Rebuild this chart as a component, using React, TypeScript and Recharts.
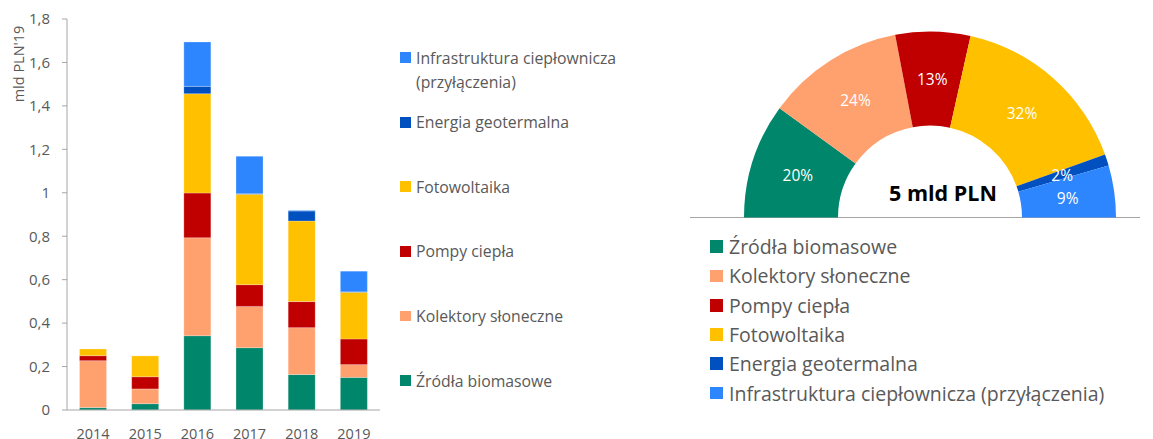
import React from "react";
import { Bar, BarChart, Cell, Label, Pie, PieChart, XAxis, YAxis } from "recharts";

const years = ["2014", "2015", "2016", "2017", "2018", "2019"];
const biomasa = [0.011, 0.029, 0.342, 0.287, 0.163, 0.15];
const kolektory = [0.216, 0.068, 0.451, 0.19, 0.216, 0.059];
const pompy = [0.023, 0.056, 0.206, 0.1, 0.12, 0.118];
const fotowoltaika = [0.031, 0.096, 0.457, 0.416, 0.371, 0.215];
const geotermia = [0, 0, 0.034, 0.003, 0.046, 0.002];
const infrastruktura = [0, 0, 0.204, 0.172, 0.003, 0.095];
const yTicks = [0, 0.2, 0.4, 0.6, 0.8, 1, 1.2, 1.4, 1.6, 1.8];

const seriesNames = [
  "Źródła biomasowe",
  "Kolektory słoneczne",
  "Pompy ciepła",
  "Fotowoltaika",
  "Energia geotermalna",
  "Infrastruktura ciepłownicza (przyłączenia)",
];
const seriesKeys = ["biomasa", "kolektory", "pompy", "foto", "geo", "infra"];
const colors = ["#00866a", "#ffa06f", "#c00000", "#ffc000", "#0050c0", "#2e86ff"];

const shares = [20, 24, 13, 32, 2, 9];
const total = "5 mld PLN";

const barData = years.map((year, i) => ({
  year,
  biomasa: biomasa[i],
  kolektory: kolektory[i],
  pompy: pompy[i],
  foto: fotowoltaika[i],
  geo: geotermia[i],
  infra: infrastruktura[i],
}));
const pieData = seriesNames.map((name, i) => ({ name, value: shares[i] }));

const font = "'Open Sans', 'Noto Sans', sans-serif";
const grey = "#595959";
const axisGrey = "#a6a6a6";
const RAD = Math.PI / 180;

function sliceLabel(props: any) {
  const { cx, cy, midAngle, innerRadius, outerRadius, value } = props;
  const r = (innerRadius + outerRadius) / 2;
  const a = midAngle * RAD;
  return (
    <text
      x={cx + r * Math.cos(a)}
      y={cy - r * Math.sin(a)}
      fill="#ffffff"
      fontSize={15.5}
      fontFamily={font}
      textAnchor="middle"
      dominantBaseline="central"
    >
      {value}%
    </text>
  );
}

export default function App() {
  return (
    <div style={{ position: "absolute", left: 0, top: 0, width: 1153, height: 439, background: "#fff", fontFamily: font, overflow: "hidden" }}>
      <div style={{ position: "absolute", left: 0, top: 0 }}>
        <BarChart width={390} height={439} data={barData} margin={{ top: 19, right: 10, left: 0, bottom: 0 }} barCategoryGap="24%">
          <XAxis
            dataKey="year"
            height={29}
            tickLine={false}
            tickSize={0}
            tickMargin={19}
            axisLine={{ stroke: axisGrey }}
            tick={{ fill: grey, fontSize: 14.5, fontFamily: font }}
          />
          <YAxis
            width={67}
            domain={[0, 1.8]}
            ticks={yTicks}
            tickSize={5}
            tickMargin={12}
            axisLine={{ stroke: axisGrey }}
            tickLine={{ stroke: axisGrey }}
            tick={{ fill: grey, fontSize: 15, fontFamily: font }}
            tickFormatter={(v: number) => String(v).replace(".", ",")}
            label={{
              content: (p: any) => {
                const x = (p.viewBox?.x ?? 0) + 18;
                const y = (p.viewBox?.y ?? 19) + 45;
                return (
                  <text x={x} y={y} transform={`rotate(-90 ${x} ${y})`} textAnchor="middle" dominantBaseline="central" fill={grey} fontSize={14.5} fontFamily={font}>
                    mld PLN'19
                  </text>
                );
              },
            }}
          />
          {seriesKeys.map((k, i) => (
            <Bar key={k} dataKey={k} name={seriesNames[i]} stackId="a" fill={colors[i]} stroke="#ffffff" strokeOpacity={0.4} strokeWidth={0.6} isAnimationActive={false} />
          ))}
        </BarChart>
      </div>

      <div style={{ position: "absolute", left: 400, top: 45.7, width: 240 }}>
        {seriesNames
          .map((name, i) => ({ name, color: colors[i] }))
          .reverse()
          .map((it) => (
            <div key={it.name} style={{ height: 64.6, display: "flex", alignItems: "flex-start" }}>
              <div style={{ width: 10.7, height: 10.7, background: it.color, marginTop: 6.6, flexShrink: 0 }} />
              <div style={{ marginLeft: 5.3, width: 222, fontSize: 15.8, lineHeight: "24px", color: grey }}>{it.name}</div>
            </div>
          ))}
      </div>

      <div style={{ position: "absolute", left: 690, top: 217, width: 450, height: 0, borderTop: `1px solid ${axisGrey}` }} />

      <div style={{ position: "absolute", left: 690, top: 0 }}>
        <PieChart width={450} height={225} margin={{ top: 0, right: 0, bottom: 0, left: 0 }}>
          <Pie
            data={pieData}
            dataKey="value"
            cx={240}
            cy={217.5}
            startAngle={180}
            endAngle={0}
            innerRadius={92}
            outerRadius={186}
            stroke="none"
            label={sliceLabel}
            labelLine={false}
            isAnimationActive={false}
          >
            {pieData.map((d, i) => (
              <Cell key={d.name} fill={colors[i]} />
            ))}
            <Label
              position="center"
              content={(p: any) => {
                const vb = p.viewBox || {};
                return (
                  <text x={(vb.cx ?? 240) + 13} y={(vb.cy ?? 217.5) - 25} textAnchor="middle" dominantBaseline="central" fill="#000" fontSize={21.5} fontWeight={700} fontFamily={font}>
                    {total}
                  </text>
                );
              }}
            />
          </Pie>
        </PieChart>
      </div>

      <div style={{ position: "absolute", left: 710, top: 232 }}>
        {seriesNames.map((name, i) => (
          <div key={name} style={{ height: 29.3, display: "flex", alignItems: "center" }}>
            <div style={{ width: 12.7, height: 12.7, background: colors[i], flexShrink: 0 }} />
            <div style={{ marginLeft: 6.3, fontSize: 19.5, color: grey, whiteSpace: "nowrap" }}>{name}</div>
          </div>
        ))}
      </div>
    </div>
  );
}
